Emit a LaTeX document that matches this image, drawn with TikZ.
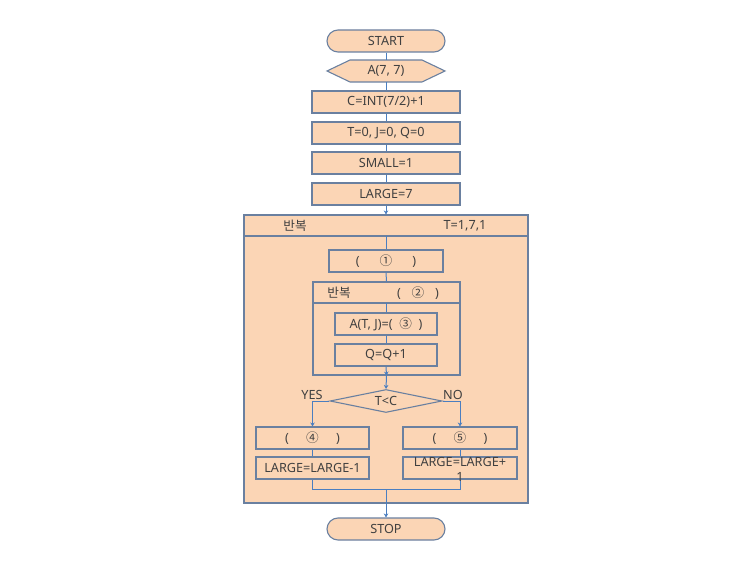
\documentclass[tikz,border=0pt]{standalone}
\usepackage{fontspec}
\setmainfont{Noto Sans}
\newfontfamily\kr{Noto Sans CJK KR}
\usetikzlibrary{arrows.meta,shapes.geometric}
\definecolor{peach}{HTML}{FBD5B5}
\definecolor{edgeblue}{HTML}{6A80A0}
\definecolor{linkblue}{HTML}{4A7EC0}
\definecolor{txt}{HTML}{404040}
\def\u{0.75pt}
\tikzset{
  box/.style={draw=edgeblue, fill=peach, line width=1.1*\u, inner sep=0pt,
    minimum width=148*\u, minimum height=22*\u, text=txt,
    font=\fontsize{9.5pt}{11pt}\selectfont},
  term/.style={box, rounded corners=11*\u, minimum width=118*\u},
  lbl/.style={inner sep=0pt, text=txt, font=\fontsize{9.5pt}{11pt}\selectfont},
  link/.style={draw=linkblue, line width=1*\u},
  arr/.style={link, -{Stealth[length=4*\u, width=4.5*\u]}},
}
\begin{document}
\begin{tikzpicture}[x=\u, y=-\u]
\useasboundingbox (0,0) rectangle (750,570);
% outer loop box
\node[box, minimum width=284*\u, minimum height=288*\u] (outer) at (386,359) {};
\draw[draw=edgeblue, line width=1.1*\u] (244,236) -- (528,236);
\coordinate (oh) at (386,236);
\node[lbl] (ol1) at (295,226) {\kr 반복};
\node[lbl] (ol2) at (465,226) {T=1,7,1};
% inner loop box
\node[box, minimum width=147*\u, minimum height=93*\u] (inner) at (386.5,328.5) {};
\draw[draw=edgeblue, line width=1.1*\u] (313,303) -- (460,303);
\coordinate (ih) at (386,303);
\node[lbl] (il1) at (339,293) {\kr 반복};
\node[lbl] (il2) at (418,293) {(\hspace{8pt}{\kr ②}\hspace{8pt})};
% top chain
\node[term] (start) at (386,41) {START};
\draw[draw=edgeblue, fill=peach, line width=1.1*\u]
  (327,71) -- (350,60) -- (422,60) -- (445,71) -- (422,82) -- (350,82) -- cycle;
\node[lbl, minimum width=118*\u, minimum height=22*\u] (hex) at (386,71) {A(7, 7)};
\node[box] (c) at (386,102) {C=INT(7/2)+1};
\node[box] (t0) at (386,133) {T=0, J=0, Q=0};
\node[box] (small) at (386,163) {SMALL=1};
\node[box] (large) at (386,194) {LARGE=7};
% inside outer loop
\node[box, minimum width=114*\u] (one) at (386,261) {(\hspace{15pt}{\kr ①}\hspace{15pt})};
\node[box, minimum width=102*\u] (a) at (386,324) {A(T, J)=(\hspace{5pt}{\kr ③}\hspace{5pt})};
\node[box, minimum width=102*\u] (q) at (386,355) {Q=Q+1};
\node[diamond, draw=edgeblue, fill=peach, line width=1.1*\u, inner sep=0pt,
  minimum width=112*\u, minimum height=23*\u, aspect=4.9, text=txt,
  font=\fontsize{9.5pt}{11pt}\selectfont] (dia) at (386,401) {T<C};
\node[lbl] (yes) at (312,395) {YES};
\node[lbl] (no) at (453,395) {NO};
\node[box, minimum width=113*\u] (four) at (312.5,438) {(\hspace{13pt}{\kr ④}\hspace{13pt})};
\node[box, minimum width=113*\u] (lm1) at (312.5,468) {LARGE=LARGE-1};
\node[box, minimum width=114*\u] (five) at (460,438) {(\hspace{13pt}{\kr ⑤}\hspace{13pt})};
\node[box, minimum width=114*\u] (lp1) at (460,468) {};
\node[term] (stop) at (386,529) {STOP};
% connectors
\draw[link] (start.south) -- (hex.north);
\draw[link] (hex.south) -- (c.north);
\draw[link] (c.south) -- (t0.north);
\draw[link] (t0.south) -- (small.north);
\draw[link] (small.south) -- (large.north);
\draw[arr] (large.south) -- (outer.north);
\draw[link] (oh) -- (one.north);
\draw[link] (one.south) -- (inner.north);
\draw[link] (ih) -- (a.north);
\draw[link] (a.south) -- (q.north);
\draw[arr] (q.south) -- (inner.south);
\draw[arr] (inner.south) -- (dia.north);
\draw[arr] (dia.west) -| (four.north);
\draw[arr] (dia.east) -| (five.north);
\draw[link] (four.south) -- (lm1.north);
\draw[link] (five.south) -- (lp1.north);
\coordinate (jl) at (312.5,489);
\coordinate (jr) at (460,489);
\coordinate (jm) at (386,489);
\draw[link] (lm1.south) -- (jl) -- (jr) -- (lp1.south);
\draw[arr] (jm) -- (stop.north);
\node[lbl, align=center, font=\fontsize{9.5pt}{11.25pt}\selectfont] (lp1t) at (460,469.5) {LARGE=LARGE+\\1};
\end{tikzpicture}
\end{document}
